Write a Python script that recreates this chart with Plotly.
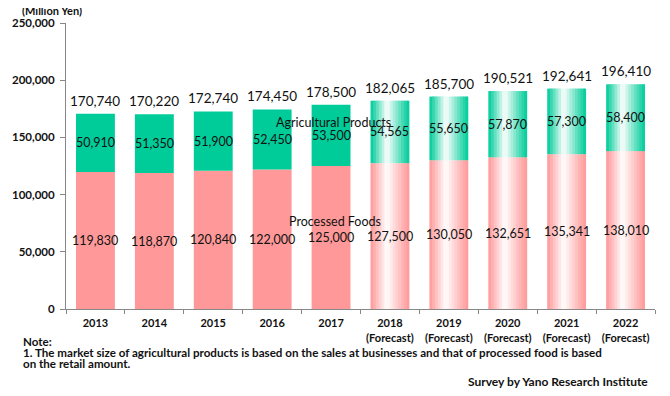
import plotly.graph_objects as go

years = ["2013", "2014", "2015", "2016", "2017",
         "2018<br>(Forecast)", "2019<br>(Forecast)", "2020<br>(Forecast)",
         "2021<br>(Forecast)", "2022<br>(Forecast)"]
processed = [119830, 118870, 120840, 122000, 125000, 127500, 130050, 132651, 135341, 138010]
agricultural = [50910, 51350, 51900, 52450, 53500, 54565, 55650, 57870, 57300, 58400]
totals = [170740, 170220, 172740, 174450, 178500, 182065, 185700, 190521, 192641, 196410]
forecast = [False] * 5 + [True] * 5

GREEN = (0, 204, 153)
PINK = (255, 153, 153)
FONT = "Lato"
BW = 0.66
N = 14
OFF = 8  # page body margin offset

fig = go.Figure()

act_x = [x for x, f in zip(years, forecast) if not f]
act_p = [v for v, f in zip(processed, forecast) if not f]
act_a = [v for v, f in zip(agricultural, forecast) if not f]
fc_x = [x for x, f in zip(years, forecast) if f]
fc_p = [v for v, f in zip(processed, forecast) if f]
fc_a = [v for v, f in zip(agricultural, forecast) if f]

def rgb(c):
    return "rgb(%d,%d,%d)" % c

fig.add_trace(go.Bar(x=act_x, y=act_p, width=BW, marker=dict(color=rgb(PINK), line=dict(width=0)),
                     name="Processed Foods", hoverinfo="skip"))
fig.add_trace(go.Bar(x=act_x, y=act_a, base=act_p, width=BW,
                     marker=dict(color=rgb(GREEN), line=dict(width=0)),
                     name="Agricultural Products", hoverinfo="skip"))

def grad(base, t, c=0.42):
    if t < c:
        w = 1 - (c - t) / c
    else:
        w = 1 - (t - c) / (1 - c)
    w = max(0.0, min(1.0, w)) ** 1.1
    return tuple(int(round(b * (1 - w) + 255 * w)) for b in base)

sw = BW / N
for i in range(N):
    t = (i + 0.5) / N
    off = -BW / 2 + i * sw
    wdt = sw * 1.6 if i < N - 1 else sw
    fig.add_trace(go.Bar(x=fc_x, y=fc_p, width=wdt, offset=off,
                         marker=dict(color=rgb(grad(PINK, t)), line=dict(width=0)),
                         showlegend=False, hoverinfo="skip"))
    fig.add_trace(go.Bar(x=fc_x, y=fc_a, base=fc_p, width=wdt, offset=off,
                         marker=dict(color=rgb(grad(GREEN, t)), line=dict(width=0)),
                         showlegend=False, hoverinfo="skip"))

ann = []
for i, (p, a, tot) in enumerate(zip(processed, agricultural, totals)):
    ann.append(dict(x=i, y=p / 2, text=f"{p:,}", showarrow=False, xref="x", yref="y",
                    yanchor="middle", font=dict(family=FONT, size=12.5, color="#111")))
    ann.append(dict(x=i, y=p + a / 2, text=f"{a:,}", showarrow=False, xref="x", yref="y",
                    yanchor="middle", font=dict(family=FONT, size=12.5, color="#111")))
    ann.append(dict(x=i, y=tot, text=f"{tot:,}", showarrow=False, xref="x", yref="y",
                    yanchor="bottom", yshift=3,
                    font=dict(family=FONT, size=13.5, color="#111")))

# screen-pixel -> paper coordinates (plot area on screen: x 66..655, y 22.7..309.3)
def py(p):
    return (309.3 - p) / 286.6

def px(p):
    return (p - 66) / 589

def note(x, y, text, size=11.6, xanchor="left"):
    return dict(x=px(x), y=py(y), xref="paper", yref="paper", text=text, showarrow=False,
                xanchor=xanchor, yanchor="middle", font=dict(family=FONT, size=size, color="#111"))

ann += [
    note(333, 122, "Agricultural Products", 12.5, "center"),
    note(335, 222, "Processed Foods", 12.5, "center"),
    note(20, 10, "<b>(Million Yen)</b>", 11),
    note(21, 342, "<b>Note:</b>"),
    note(21, 353, "<b>1. The market size of agricultural products is based on the sales at businesses and that of processed food is based</b>"),
    note(21, 364, "<b>on the retail amount.</b>"),
    note(650, 382, "<b>Survey by Yano Research Institute</b>", 12, "right"),
]

fig.update_layout(
    width=670, height=396,
    margin=dict(l=66 - OFF, r=670 - (655 - OFF), t=22.7 - OFF, b=396 - (309.3 - OFF), autoexpand=False),
    paper_bgcolor="white", plot_bgcolor="white",
    barmode="overlay", showlegend=False,
    annotations=ann,
    font=dict(family=FONT, color="#111"),
)
fig.update_xaxes(
    type="category", categoryorder="array", categoryarray=years,
    showline=True, linecolor="#888", linewidth=1,
    ticks="outside", tickson="boundaries", ticklen=4, tickcolor="#888",
    tickfont=dict(family=FONT, size=11, color="#111"), tickangle=0, ticklabelstandoff=4,
    showgrid=False, range=[-0.5, 9.5],
)
fig.update_yaxes(
    range=[0, 250000], tickvals=[0, 50000, 100000, 150000, 200000, 250000],
    ticktext=["<b>0</b>", "<b>50,000</b>", "<b>100,000</b>", "<b>150,000</b>", "<b>200,000</b>", "<b>250,000</b>"],
    showline=True, linecolor="#888", linewidth=1,
    ticks="outside", ticklen=5, tickcolor="#888", ticklabelstandoff=3,
    tickfont=dict(family=FONT, size=11.5, color="#111"),
    showgrid=False, zeroline=False,
)
fig.update_xaxes(ticktext=["<b>" + y + "</b>" for y in years], tickvals=years)

fig.write_html("out.html")
